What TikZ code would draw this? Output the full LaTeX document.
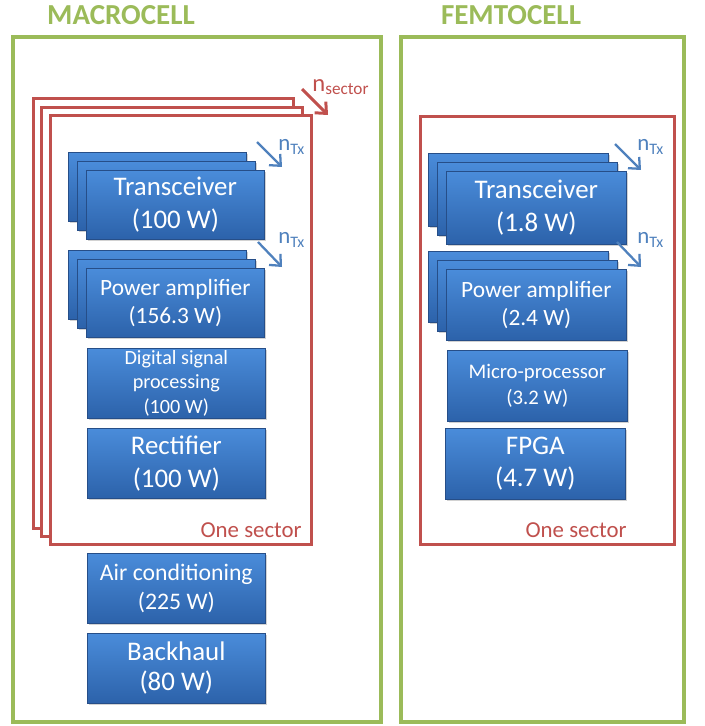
\documentclass[tikz,border=0pt]{standalone}
\usepackage{fontspec}
\setmainfont{Carlito}
\usetikzlibrary{arrows.meta,shadows}

\definecolor{cellgreen}{RGB}{155,187,89}
\definecolor{sectorred}{RGB}{192,80,77}
\definecolor{unittop}{RGB}{74,140,218}
\definecolor{unitbot}{RGB}{44,98,170}
\definecolor{unitline}{RGB}{38,78,136}
\definecolor{txblue}{RGB}{79,129,189}

\begin{document}
\begin{tikzpicture}[x=0.02cm,y=-0.02cm,>={Straight Barb[length=5pt,width=9pt]},
    cell/.style={draw=cellgreen,line width=2.3pt},
    title/.style={text=cellgreen,font=\fontsize{16.5}{18}\selectfont\bfseries},
    sector/.style={draw=sectorred,line width=1.7pt,fill=white,anchor=north west},
    unit/.style={draw=unitline,top color=unittop,bottom color=unitbot,text=white,
      align=center,inner sep=1pt,anchor=north west,minimum width=3.56cm,minimum height=1.38cm,
      drop shadow={shadow xshift=1pt,shadow yshift=-1pt,opacity=0.35}},
    big/.style={font=\fontsize{15.3}{18.5}\selectfont},
    mid/.style={font=\fontsize{13.3}{16}\selectfont},
    small/.style={font=\fontsize{11.5}{14}\selectfont},
    txarrow/.style={->,draw=txblue,line width=1.3pt},
    txlabel/.style={text=txblue,anchor=west,inner sep=0pt,font=\fontsize{13}{14}\selectfont},
    seclabel/.style={text=sectorred,anchor=south east,inner sep=0pt,font=\fontsize{13}{14}\selectfont}]
  \useasboundingbox (0,0) rectangle (704,726);

  % cells
  \draw[cell] (13,37) rectangle (381,722);
  \draw[cell] (401,37) rectangle (684,722);
  \node[title] (macro) at (121,15) {MACROCELL};
  \node[title] (femto) at (511,15) {FEMTOCELL};

  % macrocell sectors
  \node[sector,minimum width=5.2cm,minimum height=8.6cm] (msec3) at (32,97) {};
  \node[sector,minimum width=5.22cm,minimum height=8.58cm] (msec2) at (40,106) {};
  \node[sector,minimum width=5.22cm,minimum height=8.58cm] (msec1) at (49,114) {};
  \coordinate (ns1) at (302,89);
  \coordinate (ns2) at (328,115);
  \draw[->,draw=sectorred,line width=1.7pt] (ns1) -- (ns2);
  \node[text=sectorred,anchor=west,inner sep=0pt,font=\fontsize{14}{15}\selectfont] (nsec) at (312,87) {n\textsubscript{sector}};

  \node[unit] (mtrx3) at (68,152) {};
  \node[unit] (mtrx2) at (77,161) {};
  \node[unit,big] (mtrx1) at (86,170) {Transceiver\\(100 W)};
  \coordinate (mt1) at (257,142);
  \coordinate (mt2) at (282,167);
  \draw[txarrow] (mt1) -- (mt2);
  \node[txlabel] (mtx1) at (278,147) {n\textsubscript{Tx}};

  \node[unit] (mpa3) at (68,250) {};
  \node[unit] (mpa2) at (77,259) {};
  \node[unit,mid] (mpa1) at (86,268) {Power amplifier\\(156.3 W)};
  \coordinate (mp1) at (258,242);
  \coordinate (mp2) at (282,267);
  \draw[txarrow] (mp1) -- (mp2);
  \node[txlabel] (mtx2) at (278,240) {n\textsubscript{Tx}};

  \node[unit,small,minimum height=1.4cm] (mdsp) at (87,348) {Digital signal\\processing\\(100 W)};
  \node[unit,big,minimum height=1.4cm] (mrect) at (87,428) {Rectifier\\(100 W)};
  \node[seclabel] (mone) at (302,538) {One sector};

  \node[unit,mid,minimum height=1.4cm,font=\fontsize{13.5}{17}\selectfont] (mair) at (87,553) {Air conditioning\\(225 W)};
  \node[unit,big,minimum height=1.4cm,font=\fontsize{15.3}{17}\selectfont] (mback) at (87,633) {Backhaul\\(80 W)};

  % femtocell sector
  \node[sector,minimum width=5.08cm,minimum height=8.56cm] (fsec) at (419,115) {};

  \node[unit,minimum width=3.6cm,minimum height=1.46cm] (ftrx3) at (428,153) {};
  \node[unit,minimum width=3.6cm,minimum height=1.46cm] (ftrx2) at (437,162) {};
  \node[unit,big,minimum width=3.6cm,minimum height=1.46cm] (ftrx1) at (446,171) {Transceiver\\(1.8 W)};
  \coordinate (ft1) at (615,144);
  \coordinate (ft2) at (641,170);
  \draw[txarrow] (ft1) -- (ft2);
  \node[txlabel] (ftx1) at (637,147) {n\textsubscript{Tx}};

  \node[unit,minimum width=3.6cm,minimum height=1.42cm] (fpa3) at (428,251) {};
  \node[unit,minimum width=3.6cm,minimum height=1.42cm] (fpa2) at (437,260) {};
  \node[unit,mid,minimum width=3.6cm,minimum height=1.42cm] (fpa1) at (446,269) {Power amplifier\\(2.4 W)};
  \coordinate (fp1) at (617,242);
  \coordinate (fp2) at (641,267);
  \draw[txarrow] (fp1) -- (fp2);
  \node[txlabel] (ftx2) at (637,240) {n\textsubscript{Tx}};

  \node[unit,minimum width=3.6cm,minimum height=1.42cm,font=\fontsize{11.8}{15}\selectfont] (fmicro) at (447,350) {Micro-processor\\(3.2 W)};
  \node[unit,big,minimum width=3.6cm,minimum height=1.42cm] (ffpga) at (445,428) {FPGA\\(4.7 W)};
  \node[seclabel] (fone) at (627,538) {One sector};
\end{tikzpicture}
\end{document}
